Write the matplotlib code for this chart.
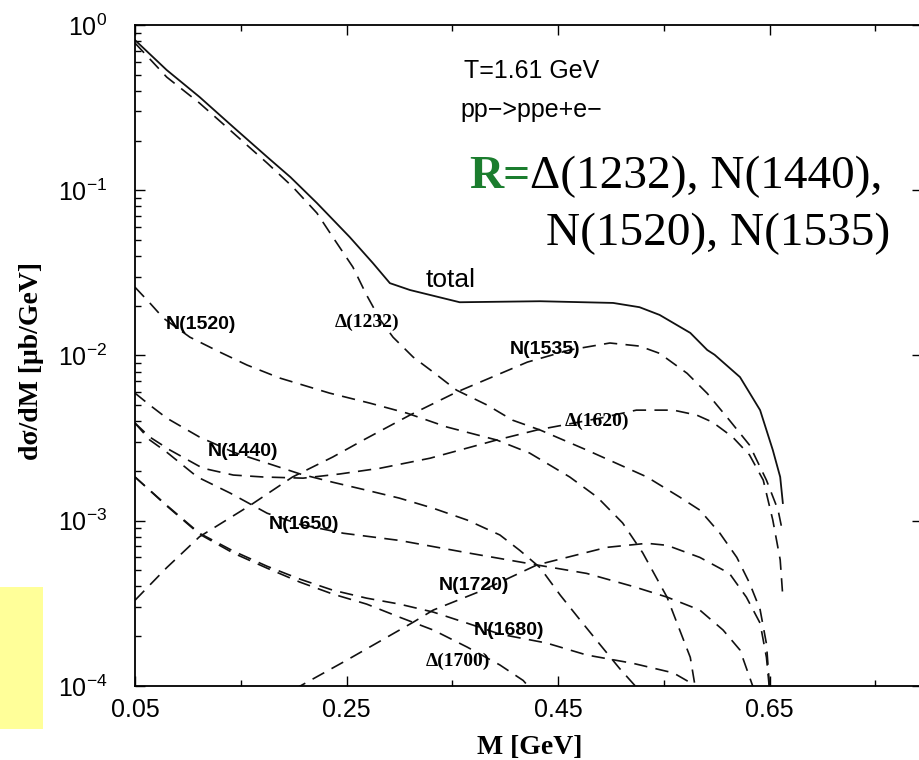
import numpy as np
import matplotlib
matplotlib.use('Agg')
import matplotlib.pyplot as plt
from matplotlib.patches import Rectangle
from matplotlib.ticker import NullFormatter

plt.rcParams['font.family'] = ['Liberation Sans', 'DejaVu Sans']

# total
m_total = [0.050, 0.080, 0.111, 0.143, 0.175, 0.197, 0.222, 0.253, 0.275, 0.291, 0.310, 0.357,
           0.433, 0.502, 0.527, 0.546, 0.575, 0.591, 0.598, 0.622, 0.641, 0.653, 0.660, 0.6625]
ds_total = [0.811, 0.534, 0.367, 0.241, 0.159, 0.120, 0.0837, 0.0521, 0.0362, 0.0274, 0.0249, 0.0210,
            0.0213, 0.0208, 0.0196, 0.0176, 0.0137, 0.0108, 0.0101, 0.0074, 0.00467, 0.00268, 0.00184, 0.00128]

# Delta(1232)
m_d1232 = [0.050, 0.080, 0.111, 0.143, 0.175, 0.199, 0.222, 0.237, 0.256, 0.269, 0.282, 0.294, 0.313, 0.332,
           0.354, 0.383, 0.407, 0.433, 0.477, 0.534, 0.565, 0.584, 0.603, 0.619, 0.631, 0.641, 0.647, 0.651]
ds_d1232 = [0.778, 0.484, 0.337, 0.222, 0.146, 0.105, 0.0728, 0.0521, 0.0343, 0.0232, 0.0164, 0.0129, 0.00978, 0.00793,
            0.00617, 0.00501, 0.00406, 0.00354, 0.00268, 0.00184, 0.00139, 0.00116, 0.00084, 0.00060, 0.00042, 0.00029, 0.00018, 0.00008]

# N(1520)
m_n1520 = [0.050, 0.064, 0.077, 0.102, 0.130, 0.156, 0.187, 0.234, 0.272, 0.307, 0.345, 0.392, 0.423,
           0.461, 0.487, 0.511, 0.530, 0.553, 0.565, 0.575, 0.582]
ds_n1520 = [0.0259, 0.0208, 0.0168, 0.0129, 0.0105, 0.00875, 0.0073, 0.00592, 0.00515, 0.00448, 0.00369, 0.00308, 0.00257,
            0.00184, 0.00139, 0.00097, 0.00064, 0.000345, 0.000218, 0.000149, 0.00008]

# N(1535)
m_n1535 = [0.050, 0.080, 0.111, 0.159, 0.199, 0.237, 0.266, 0.310, 0.354, 0.421, 0.461, 0.499, 0.527,
           0.546, 0.572, 0.591, 0.612, 0.631, 0.647, 0.658, 0.6625]
ds_n1535 = [0.00033, 0.00052, 0.00080, 0.00124, 0.00184, 0.00243, 0.00308, 0.00436, 0.0060, 0.00912, 0.0108, 0.0119, 0.0114,
            0.0103, 0.0078, 0.0059, 0.00406, 0.00287, 0.00176, 0.00116, 0.00084]

# Delta(1620)
m_d1620 = [0.050, 0.064, 0.083, 0.114, 0.143, 0.171, 0.209, 0.244, 0.282, 0.329, 0.392, 0.430, 0.490,
           0.524, 0.559, 0.581, 0.596, 0.615, 0.631, 0.644, 0.653, 0.660, 0.6625]
ds_d1620 = [0.0039, 0.00321, 0.00268, 0.00208, 0.00189, 0.00184, 0.00181, 0.00192, 0.00208, 0.00239, 0.00308, 0.00354, 0.00418,
            0.00467, 0.00467, 0.00436, 0.00395, 0.00321, 0.00250, 0.00176, 0.00101, 0.00058, 0.000345]

# N(1440)
m_n1440 = [0.050, 0.064, 0.080, 0.111, 0.143, 0.175, 0.206, 0.237, 0.269, 0.300, 0.332, 0.364, 0.395,
           0.414, 0.433, 0.452, 0.471, 0.490, 0.508, 0.523, 0.527]
ds_n1440 = [0.00592, 0.00501, 0.00418, 0.00321, 0.0026, 0.00223, 0.00192, 0.00171, 0.00153, 0.00137, 0.00119, 0.00101, 0.00082,
            0.00066, 0.00052, 0.000355, 0.00025, 0.000177, 0.000128, 0.0001, 0.00008]

# N(1650)
m_n1650 = [0.050, 0.064, 0.080, 0.109, 0.140, 0.175, 0.206, 0.247, 0.300, 0.364, 0.430, 0.477, 0.521,
           0.553, 0.584, 0.606, 0.622, 0.634, 0.636]
ds_n1650 = [0.0039, 0.00308, 0.0026, 0.00184, 0.00147, 0.00111, 0.00095, 0.00084, 0.00076, 0.00064, 0.00054, 0.00048, 0.00040,
            0.000345, 0.000288, 0.000218, 0.000165, 0.0001, 0.00008]

# N(1720)
m_n1720 = [0.200, 0.250, 0.313, 0.332, 0.379, 0.430, 0.496, 0.534, 0.553, 0.584, 0.612, 0.628, 0.641, 0.647, 0.651]
ds_n1720 = [0.000095, 0.000143, 0.000243, 0.000288, 0.00038, 0.00054, 0.00069, 0.00073, 0.00071, 0.00060, 0.00048,
            0.000345, 0.00024, 0.000149, 0.00008]

# N(1680)
m_n1680 = [0.050, 0.080, 0.111, 0.143, 0.175, 0.206, 0.237, 0.269, 0.300, 0.332, 0.364, 0.395, 0.439,
           0.477, 0.521, 0.559, 0.577, 0.582]
ds_n1680 = [0.00184, 0.00124, 0.00084, 0.000655, 0.00053, 0.000443, 0.00038, 0.00034, 0.000313, 0.00028, 0.00024, 0.000206,
            0.000182, 0.000154, 0.000137, 0.00012, 0.000103, 0.00009]

# Delta(1700)
m_d1700 = [0.050, 0.080, 0.111, 0.143, 0.175, 0.206, 0.237, 0.269, 0.300, 0.332, 0.364, 0.395, 0.417, 0.428]
ds_d1700 = [0.00184, 0.00123, 0.00083, 0.000637, 0.000516, 0.000425, 0.00036, 0.000313, 0.000261, 0.000218, 0.000172,
            0.000134, 0.000108, 0.00009]

dashed = [(m_d1232, ds_d1232), (m_n1520, ds_n1520), (m_n1535, ds_n1535), (m_d1620, ds_d1620),
          (m_n1440, ds_n1440), (m_n1650, ds_n1650), (m_n1720, ds_n1720), (m_n1680, ds_n1680),
          (m_d1700, ds_d1700)]

# curve labels: text, M, value, serif?
labels = [('N(1520)', 0.1124, 0.0153, False), ('\u0394(1232)', 0.2693, 0.0159, True),
          ('N(1535)', 0.4375, 0.0108, False), ('\u0394(1620)', 0.4867, 0.0040, True),
          ('N(1440)', 0.1521, 0.00264, False), ('N(1650)', 0.2097, 0.000954, False),
          ('N(1720)', 0.3704, 0.000407, False), ('N(1680)', 0.4035, 0.000218, False),
          ('\u0394(1700)', 0.3553, 0.000141, True)]

xticks_major = [0.05, 0.25, 0.45, 0.65]
xticks_minor = [0.15, 0.35, 0.55, 0.75]

fig = plt.figure(figsize=(9.2, 7.6), dpi=100)
fig.patches.append(Rectangle((0, 0.0408), 0.0467, 0.1868, transform=fig.transFigure,
                             facecolor='#ffff99', edgecolor='none'))

ax = fig.add_axes([0.1467, 0.0974, 0.8554, 0.8697])
ax.semilogy(m_total, ds_total, color='#111111', lw=1.3)
for m, ds in dashed:
    ax.semilogy(m, ds, color='#111111', lw=1.2, dashes=(8, 5))

ax.set_xlim(0.05, 0.794)
ax.set_ylim(1e-4, 1)
ax.set_xticks(xticks_major)
ax.set_xticklabels(['%.2f' % v for v in xticks_major])
ax.set_xticks(xticks_minor, minor=True)
ax.yaxis.set_minor_formatter(NullFormatter())

for s in ax.spines.values():
    s.set_linewidth(1.3)
ax.tick_params(which='both', direction='in', top=True, right=True, width=1.0)
ax.tick_params(which='major', length=7, labelsize=18)
ax.tick_params(which='minor', length=4)
ax.tick_params(axis='y', which='minor', right=False)
ax.tick_params(axis='x', which='major', pad=9)
ax.tick_params(axis='y', which='major', pad=20)

for txt, xm, yv, serif in labels:
    if serif:
        ax.text(xm, yv, txt, fontsize=14, fontweight='bold', family='Liberation Serif',
                ha='center', va='center')
    else:
        ax.text(xm, yv, txt, fontsize=14, fontweight='bold', ha='center', va='center')

ax.text(0.348, 0.0286, 'total', fontsize=19, ha='center', va='center')

fig.text(0.578, 0.9066, 'T=1.61 GeV', fontsize=18, ha='center', va='center')
fig.text(0.578, 0.8553, 'pp\u2212>ppe+e\u2212', fontsize=18, ha='center', va='center')

fig.text(0.576, 0.7526, 'R=', fontsize=34, fontweight='bold', color='#1b7d2e',
         family='Liberation Serif', ha='right', va='baseline')
fig.text(0.576, 0.7526, '\u0394(1232), N(1440),', fontsize=34,
         family='Liberation Serif', ha='left', va='baseline')
fig.text(0.9674, 0.6776, 'N(1520), N(1535)', fontsize=34,
         family='Liberation Serif', ha='right', va='baseline')

fig.text(0.0337, 0.525, 'd\u03c3/dM [\u03bcb/GeV]', fontsize=20, fontweight='bold',
         family='Liberation Serif', rotation=90, ha='center', va='center')
fig.text(0.576, 0.0158, 'M [GeV]', fontsize=20, fontweight='bold',
         family='Liberation Serif', ha='center', va='center')

plt.savefig('out.png', dpi=100)
